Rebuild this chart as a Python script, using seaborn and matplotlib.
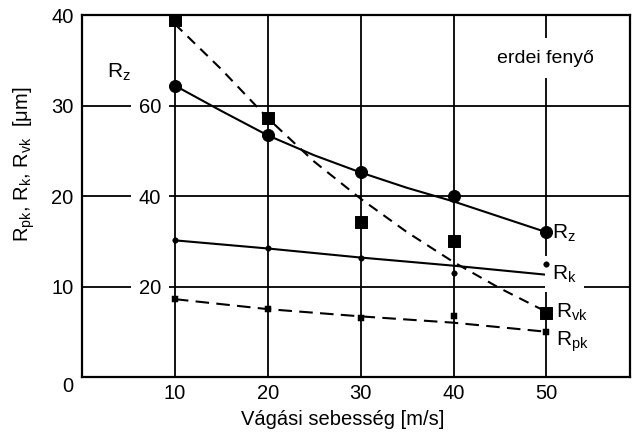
import matplotlib
matplotlib.use("Agg")
import matplotlib.pyplot as plt
import matplotlib.transforms as mtransforms
import seaborn as sns
import numpy as np
import pandas as pd

# ---- data ----
speed = [10, 20, 30, 40, 50]                # Vágási sebesség [m/s]
rz_pts = [64.4, 53.4, 45.2, 40.0, 32.0]      # Rz [µm] (inner scale)
rvk_pts = [39.4, 28.6, 17.1, 15.0, 7.1]      # Rvk [µm]
rk_pts = [15.1, 14.2, 13.2, 11.5, 12.5]      # Rk [µm]
rpk_pts = [8.6, 7.5, 6.55, 6.7, 5.0]         # Rpk [µm]

trend_x = [10, 15, 20, 25, 30, 35, 40, 45, 50]
rz_trend = [64.4, 58.8, 53.4, 49.0, 45.2, 41.8, 38.8, 35.4, 32.0]
rvk_trend = [39.0, 34.0, 28.6, 23.8, 19.7, 16.0, 12.7, 9.8, 7.2]
rk_trend_x = [10, 20, 30, 40, 50]
rk_trend = [15.1, 14.2, 13.2, 12.3, 11.3]
rpk_trend = [8.6, 7.5, 6.7, 6.0, 5.0]

left_ticks = [0, 10, 20, 30, 40]
rz_ticks = [20, 40, 60]
x_ticks = [10, 20, 30, 40, 50]

sns.set_theme(style="white")
plt.rcParams["font.family"] = ["Liberation Sans", "DejaVu Sans"]

FS = 14.5

fig = plt.figure(figsize=(6.37, 4.32), dpi=100)
ax = fig.add_axes([82/637, 55/432, 548/637, 362/432])
ax.set_xlim(0, 59)
ax.set_ylim(0, 40)

# grid
for xv in x_ticks:
    ax.axvline(xv, color="black", lw=1.3, zorder=1)
for yv in [10, 20, 30]:
    ax.axhline(yv, color="black", lw=1.3, zorder=1)

for s in ax.spines.values():
    s.set_color("black")
    s.set_linewidth(1.6)

ink = "black"
dash1 = (0, (5, 3.5))
dash2 = (0, (6.5, 3.5))

# Rvk
sns.lineplot(x=trend_x, y=rvk_trend, ax=ax, color=ink, lw=1.5, linestyle=dash1, zorder=3)
sns.scatterplot(x=speed, y=rvk_pts, ax=ax, marker="s", s=75, color=ink, edgecolor=ink, zorder=4)
# Rk
sns.lineplot(x=rk_trend_x, y=rk_trend, ax=ax, color=ink, lw=1.5, zorder=3)
sns.scatterplot(x=speed, y=rk_pts, ax=ax, marker="o", s=16, color=ink, edgecolor=ink, zorder=4)
# Rpk
sns.lineplot(x=rk_trend_x, y=rpk_trend, ax=ax, color=ink, lw=1.5, linestyle=dash2, zorder=3)
sns.scatterplot(x=speed, y=rpk_pts, ax=ax, marker="s", s=18, color=ink, edgecolor=ink, zorder=4)

ax.set_xticks(x_ticks)
ax.set_yticks(left_ticks)
ax.tick_params(axis="both", length=0, labelsize=FS, colors="black")
ax.tick_params(axis="x", pad=5)
ax.tick_params(axis="y", pad=6)
# the "0" label sits a bit lower in the reference
zero_lab = ax.get_yticklabels()[0]
zero_lab.set_transform(zero_lab.get_transform() +
                       mtransforms.ScaledTranslation(0, -7/100, fig.dpi_scale_trans))

ax.set_xlabel("Vágási sebesség [m/s]", fontsize=FS, color="black")
ax.xaxis.set_label_coords(0.475, -0.09)
ax.set_ylabel(r"R$_{\mathregular{pk}}$, R$_{\mathregular{k}}$, R$_{\mathregular{vk}}$  [$\mathregular{\mu}$m]",
              fontsize=FS, color="black")
ax.yaxis.set_label_coords(-0.082, (377-164)/362)

# Rz on its own (inner) scale
ax2 = ax.twinx()
ax2.set_ylim(0, 80)
ax2.set_xlim(0, 59)
sns.lineplot(x=trend_x, y=rz_trend, ax=ax2, color=ink, lw=1.5, zorder=3)
sns.scatterplot(x=speed, y=rz_pts, ax=ax2, marker="o", s=75, color=ink, edgecolor=ink, zorder=4)
ax2.yaxis.tick_left()
ax2.set_yticks(rz_ticks)
ax2.tick_params(axis="y", length=0, labelsize=FS, pad=-57, colors="black")
for lab in ax2.get_yticklabels():
    lab.set_bbox(dict(facecolor="white", edgecolor="none", pad=6))
ax2.set_ylabel("")
for s in ax2.spines.values():
    s.set_visible(False)

ax.text((119-82)/548, (377-72)/362, r"R$_{\mathregular{z}}$", transform=ax.transAxes,
        fontsize=FS + 0.5, ha="center", va="center", color="black")

ax.text((545-82)/548, (377-58)/362, "erdei fenyő", transform=ax.transAxes, fontsize=FS - 0.5,
        ha="center", va="center", color="black",
        bbox=dict(facecolor="white", edgecolor="none", pad=8))

lab_kw = dict(transform=ax.transAxes, fontsize=FS + 0.5, ha="left", va="center", color="black")
ax.text((552-82)/548, (377-233)/362, r"R$_{\mathregular{z}}$", **lab_kw)
ax.text((552-82)/548, (377-274)/362, r"R$_{\mathregular{k}}$",
        bbox=dict(facecolor="white", edgecolor="none", pad=5), **lab_kw)
ax.text((556-82)/548, (377-312)/362, r"R$_{\mathregular{vk}}$", **lab_kw)
ax.text((556-82)/548, (377-342)/362, r"R$_{\mathregular{pk}}$", **lab_kw)

fig.savefig("out.png", dpi=100)
